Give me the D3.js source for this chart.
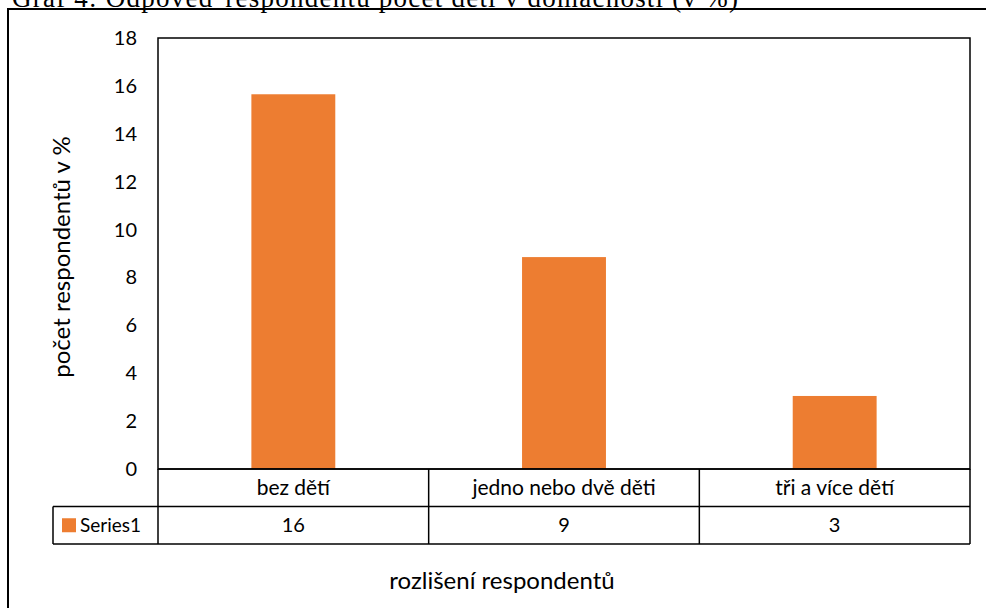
<!DOCTYPE html>
<html>
<head>
<meta charset="utf-8">
<script src="https://cdn.jsdelivr.net/npm/d3@7"></script>
<style>
  body { margin: 0; background: #fff; }
  svg { display: block; }
</style>
</head>
<body>
<div id="chart"></div>
<script>
var width = 986,
    height = 608;

var categories = ["bez dětí", "jedno nebo dvě děti", "tři a více dětí"];
var values = [15.65, 8.85, 3.05];
var tableValues = [16, 9, 3];
var seriesName = "Series1";
var yTicks = [0, 2, 4, 6, 8, 10, 12, 14, 16, 18];

var plot = { left: 158, right: 970, top: 38, bottom: 469 };
var rowH = 37.5;
var orange = "#ED7D31";
var font = "Lato, 'Open Sans', sans-serif";

var x = d3.scaleBand().domain(categories).range([plot.left, plot.right]).paddingInner(0).paddingOuter(0);
var y = d3.scaleLinear().domain([0, 18]).range([plot.bottom, plot.top]);
var barW = x.bandwidth() * 0.31;

var svg = d3.select("#chart").append("svg")
  .attr("width", width)
  .attr("height", height);

// title, clipped at the top as in the page it came from
svg.append("text")
  .attr("x", 12).attr("y", 7)
  .attr("font-family", "'Liberation Serif', 'Times New Roman', serif")
  .attr("font-size", 27)
  .attr("textLength", 726)
  .text("Graf 4: Odpověď respondentů počet dětí v domácnosti (v %)");

// outer frame
svg.append("path")
  .attr("d", "M8,640V9H1000")
  .attr("fill", "none").attr("stroke", "#000").attr("stroke-width", 2);

// bars
svg.selectAll("rect.bar").data(values).enter().append("rect")
  .attr("class", "bar")
  .attr("x", function(d, i) { return x(categories[i]) + (x.bandwidth() - barW) / 2; })
  .attr("y", function(d) { return y(d); })
  .attr("width", barW)
  .attr("height", function(d) { return y(0) - y(d); })
  .attr("fill", orange);

// plot area border
svg.append("rect")
  .attr("x", plot.left).attr("y", plot.top)
  .attr("width", plot.right - plot.left).attr("height", plot.bottom - plot.top)
  .attr("fill", "none").attr("stroke", "#000").attr("stroke-width", 1.5);

// y tick labels
svg.selectAll("text.ytick").data(yTicks).enter().append("text")
  .attr("class", "ytick")
  .attr("x", 137).attr("y", function(d) { return y(d); })
  .attr("dy", "0.35em")
  .attr("text-anchor", "end")
  .attr("font-family", font).attr("font-size", 20)
  .text(function(d) { return d; });

// y title
svg.append("text")
  .attr("transform", "translate(70,257) rotate(-90)")
  .attr("text-anchor", "middle")
  .attr("font-family", font).attr("font-size", 24)
  .text("počet respondentů v %");

// data table
var t = svg.append("g").attr("fill", "none").attr("stroke", "#000").attr("stroke-width", 1.5);
var r1 = plot.bottom, r2 = plot.bottom + rowH, r3 = plot.bottom + 2 * rowH;
t.append("line").attr("x1", plot.left).attr("x2", plot.right).attr("y1", r1).attr("y2", r1);
t.append("line").attr("x1", 53).attr("x2", plot.right).attr("y1", r2).attr("y2", r2);
t.append("line").attr("x1", 53).attr("x2", plot.right).attr("y1", r3).attr("y2", r3);
t.append("line").attr("x1", 53).attr("x2", 53).attr("y1", r2).attr("y2", r3);
t.selectAll("line.v").data(categories.concat([null])).enter().append("line")
  .attr("class", "v")
  .attr("x1", function(d) { return d ? x(d) : plot.right; })
  .attr("x2", function(d) { return d ? x(d) : plot.right; })
  .attr("y1", r1).attr("y2", r3);

svg.selectAll("text.cat").data(categories).enter().append("text")
  .attr("class", "cat")
  .attr("x", function(d) { return x(d) + x.bandwidth() / 2; })
  .attr("y", (r1 + r2) / 2).attr("dy", "0.35em")
  .attr("text-anchor", "middle")
  .attr("font-family", font).attr("font-size", 21)
  .text(function(d) { return d; });

svg.selectAll("text.val").data(tableValues).enter().append("text")
  .attr("class", "val")
  .attr("x", function(d, i) { return x(categories[i]) + x.bandwidth() / 2; })
  .attr("y", (r2 + r3) / 2).attr("dy", "0.35em")
  .attr("text-anchor", "middle")
  .attr("font-family", font).attr("font-size", 20)
  .text(function(d) { return d; });

// legend key in the table
svg.append("rect")
  .attr("x", 62).attr("y", (r2 + r3) / 2 - 7)
  .attr("width", 14).attr("height", 14)
  .attr("fill", orange);
svg.append("text")
  .attr("x", 80).attr("y", (r2 + r3) / 2).attr("dy", "0.35em")
  .attr("font-family", font).attr("font-size", 19)
  .text(seriesName);

// x title
svg.append("text")
  .attr("x", 502).attr("y", 581).attr("dy", "0.35em")
  .attr("text-anchor", "middle")
  .attr("font-family", font).attr("font-size", 24)
  .text("rozlišení respondentů");
</script>
</body>
</html>
